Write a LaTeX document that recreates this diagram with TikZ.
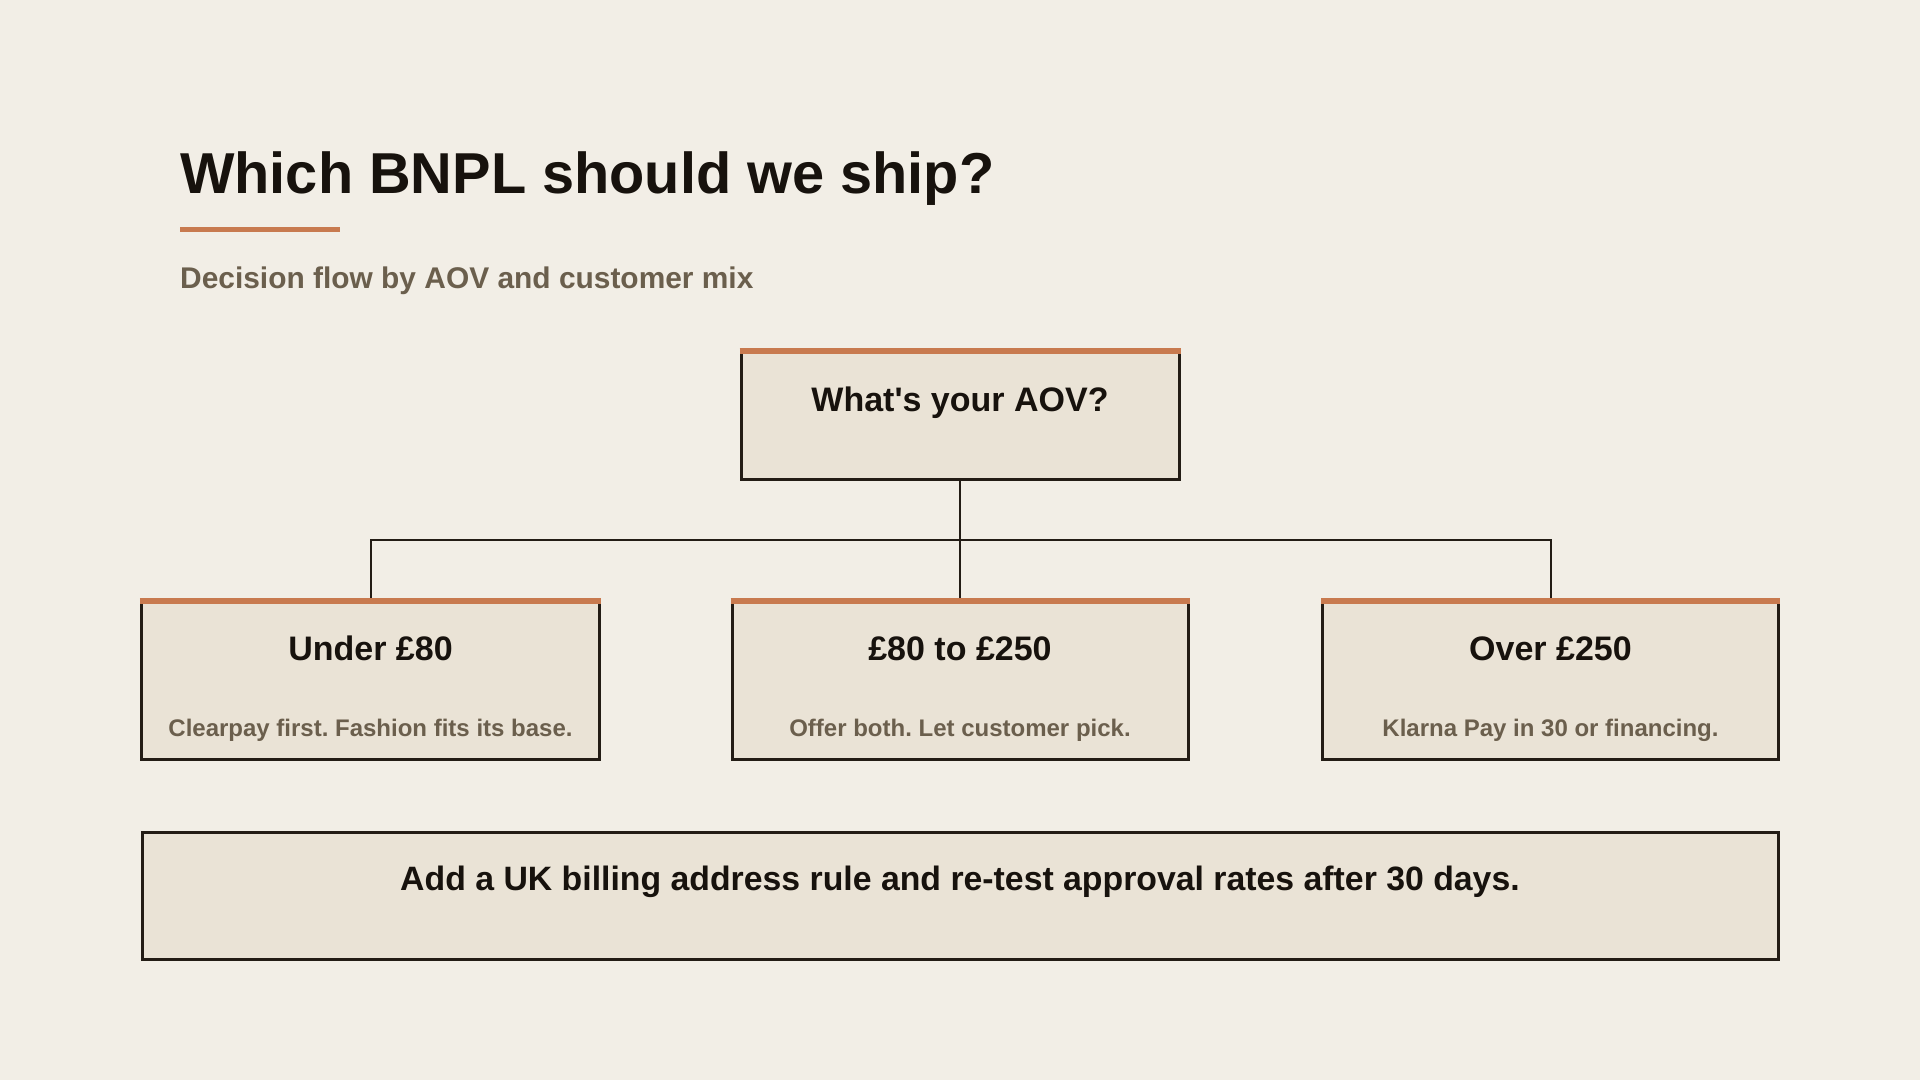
\documentclass[tikz,border=0pt]{standalone}
\usepackage{fontspec}
\setmainfont{Liberation Sans}
\definecolor{bgc}{HTML}{F2EEE6}
\definecolor{boxfill}{HTML}{EAE3D6}
\definecolor{ink}{HTML}{231C15}
\definecolor{txtink}{HTML}{17120D}
\definecolor{accent}{HTML}{C87A4F}
\definecolor{muted}{HTML}{6B5F4D}
\tikzset{
  card/.style={draw=ink, fill=boxfill, line width=3bp, rectangle, inner sep=0pt},
  bar/.style={draw=accent, line width=6bp, line cap=butt},
  link/.style={draw=ink, line width=2bp},
  txt/.style={anchor=base, inner sep=0pt, font=\bfseries},
}
\begin{document}
\frenchspacing
\begin{tikzpicture}[x=1bp, y=-1bp]
\fill[bgc] (0,0) rectangle (1920,1080);
\useasboundingbox (0,0) rectangle (1920,1080);

% title
\node[txt, anchor=base west, text=txtink, font=\fontsize{57.7bp}{66bp}\selectfont\bfseries] (title) at (180,193) {Which BNPL should we ship?};
\coordinate (ulA) at (180,229);
\coordinate (ulB) at (340,229);
\draw[accent, line width=5bp] (ulA) -- (ulB);
\node[txt, anchor=base west, text=muted, font=\fontsize{29.9bp}{36bp}\selectfont\bfseries] (subtitle) at (180,288) {Decision flow by AOV and customer mix};

% question box
\node[card, minimum width=438bp, minimum height=127bp] (q) at (960,415.5) {};
\draw[bar] (q.north west) -- (q.north east);
\node[txt, text=txtink, font=\fontsize{34bp}{40bp}\selectfont\bfseries] (qt) at (960,411) {What\textquotesingle s your AOV?};

% children
\node[card, minimum width=458bp, minimum height=157bp] (c1) at (370.5,680.5) {};
\node[card, minimum width=456bp, minimum height=157bp] (c2) at (960,680.5) {};
\node[card, minimum width=456bp, minimum height=157bp] (c3) at (1550.5,680.5) {};

% connectors
\coordinate (hub) at (960,540);
\draw[link] (q.south) -- (hub);
\draw[link] (c1.north) |- (hub) -| (c3.north);
\draw[link] (hub) -- (c2.north);

\foreach \c in {c1,c2,c3}{\draw[bar] (\c.north west) -- (\c.north east);}

\node[txt, text=txtink, font=\fontsize{34bp}{40bp}\selectfont\bfseries] (c1t) at (370.5,660) {Under £80};
\node[txt, text=muted, font=\fontsize{24bp}{28bp}\selectfont\bfseries] (c1s) at (370.5,736) {Clearpay first. Fashion fits its base.};
\node[txt, text=txtink, font=\fontsize{34bp}{40bp}\selectfont\bfseries] (c2t) at (960,660) {£80 to £250};
\node[txt, text=muted, font=\fontsize{24bp}{28bp}\selectfont\bfseries] (c2s) at (960,736) {Offer both. Let customer pick.};
\node[txt, text=txtink, font=\fontsize{34bp}{40bp}\selectfont\bfseries] (c3t) at (1550.5,660) {Over £250};
\node[txt, text=muted, font=\fontsize{24bp}{28bp}\selectfont\bfseries] (c3s) at (1550.5,736) {Klarna Pay in 30 or financing.};

% bottom note
\node[card, minimum width=1636bp, minimum height=127bp] (note) at (960.5,895.5) {};
\node[txt, text=txtink, font=\fontsize{33.8bp}{40bp}\selectfont\bfseries] (notet) at (960,890) {Add a UK billing address rule and re-test approval rates after 30 days.};
\end{tikzpicture}
\end{document}
